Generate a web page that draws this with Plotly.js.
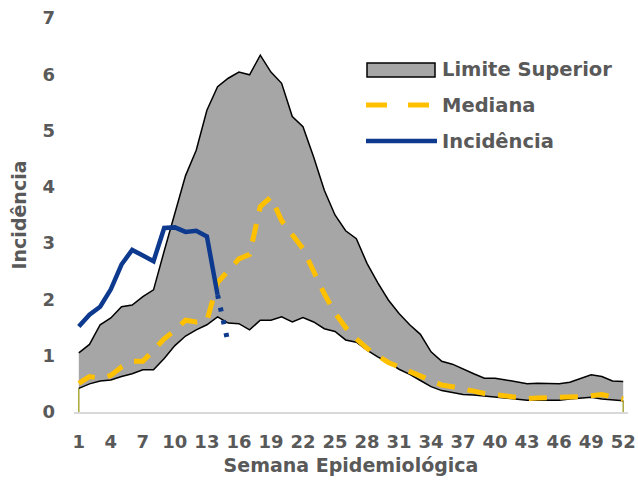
<!DOCTYPE html>
<html>
<head>
<meta charset="utf-8">
<script src="https://cdn.plot.ly/plotly-3.0.1.min.js"></script>
<style>
  html, body { margin: 0; padding: 0; background: #fff; }
  #chart { width: 638px; height: 481px; }
</style>
</head>
<body>
<div id="chart"></div>
<script>
var weeks = [1,2,3,4,5,6,7,8,9,10,11,12,13,14,15,16,17,18,19,20,21,22,23,24,25,26,
             27,28,29,30,31,32,33,34,35,36,37,38,39,40,41,42,43,44,45,46,47,48,49,50,51,52];
var upper = [1.05,1.2,1.55,1.67,1.87,1.9,2.05,2.17,2.86,3.55,4.2,4.65,5.36,5.78,5.93,6.04,5.99,6.34,6.04,5.84,5.25,5.07,4.53,3.94,3.5,3.22,
             3.08,2.64,2.3,1.99,1.75,1.55,1.38,1.07,0.9,0.85,0.76,0.68,0.6,0.6,0.57,0.54,0.5,0.51,0.51,0.5,0.53,0.59,0.66,0.63,0.55,0.54];
var lower = [0.42,0.5,0.55,0.57,0.63,0.68,0.75,0.75,0.95,1.18,1.35,1.46,1.55,1.69,1.58,1.57,1.46,1.63,1.63,1.69,1.6,1.68,1.6,1.48,1.43,1.28,
             1.24,1.1,0.98,0.88,0.76,0.67,0.56,0.45,0.38,0.34,0.31,0.3,0.28,0.27,0.24,0.23,0.21,0.21,0.21,0.21,0.23,0.25,0.26,0.23,0.21,0.2];
var median = [0.51,0.63,0.6,0.65,0.8,0.9,0.9,1.1,1.3,1.45,1.63,1.6,1.62,2.3,2.52,2.72,2.8,3.65,3.82,3.4,3.15,2.9,2.5,2.1,1.76,1.5,
              1.3,1.13,1.0,0.88,0.8,0.72,0.65,0.55,0.48,0.45,0.42,0.37,0.33,0.31,0.29,0.25,0.24,0.25,0.25,0.25,0.25,0.27,0.29,0.31,0.27,0.23];
var incWeeks = [1,2,3,4,5,6,7,8,9,10,11,12,13,14];
var incidence = [1.52,1.73,1.87,2.18,2.62,2.88,2.78,2.68,3.27,3.28,3.2,3.22,3.12,2.08];
var incDotWeeks = [14,15];
var incDot = [2.08,1.22];
var xTicks = [1,4,7,10,13,16,19,22,25,28,31,34,37,40,43,46,49,52];
var yTicks = [0,1,2,3,4,5,6,7];
var legendNames = ['Limite Superior', 'Mediana', 'Incidência'];

var textColor = '#595959';
var fontFam = 'DejaVu Sans, sans-serif';
var cGray = '#A6A6A6', cYellow = '#FFC000', cBlue = '#0D3A8E';

// plot area in pixels (for placing the hand-drawn legend)
var W = 638, H = 481, mL = 74, mR = 10, mT = 18, mB = 69;
var pw = W - mL - mR, ph = H - mT - mB;
function px(x) { return (x - mL) / pw; }
function py(y) { return (H - mB - y) / ph; }

var n = weeks.length;
var traces = [
  {x: [weeks[0], weeks[0], null, weeks[n-1], weeks[n-1]],
   y: [0, lower[0], null, 0, lower[n-1]],
   mode: 'lines', line: {color: '#A8A83A', width: 1.5}, hoverinfo: 'skip'},
  {x: weeks, y: lower, mode: 'lines', line: {color: '#000', width: 1.5}, hoverinfo: 'skip'},
  {x: weeks, y: upper, mode: 'lines', fill: 'tonexty', fillcolor: cGray,
   line: {color: '#000', width: 1.5}, name: legendNames[0]},
  {x: weeks, y: median, mode: 'lines', name: legendNames[1],
   line: {color: cYellow, width: 5, dash: '18px,13px'}},
  {x: incWeeks, y: incidence, mode: 'lines', name: legendNames[2],
   line: {color: cBlue, width: 4.5}},
  {x: incDotWeeks, y: incDot, mode: 'lines',
   line: {color: cBlue, width: 5, dash: '4px,9px'}}
];

var legFont = {family: fontFam, size: 19.5, color: textColor, weight: 'bold'};
var shapes = [
  {type: 'rect', xref: 'paper', yref: 'paper', x0: px(367), x1: px(435), y0: py(63), y1: py(77),
   fillcolor: cGray, line: {color: '#000', width: 1.5}},
  {type: 'line', xref: 'paper', yref: 'paper', x0: px(366), x1: px(430), y0: py(105), y1: py(105),
   line: {color: cYellow, width: 5, dash: '21px,21px'}},
  {type: 'line', xref: 'paper', yref: 'paper', x0: px(366), x1: px(437), y0: py(141), y1: py(141),
   line: {color: cBlue, width: 4.5}}
];
var legY = [69, 105, 141];
var annotations = legendNames.map(function (t, i) {
  return {text: t, xref: 'paper', yref: 'paper', x: px(440), y: py(legY[i]),
          xanchor: 'left', yanchor: 'middle', showarrow: false, font: legFont};
});

var layout = {
  width: W, height: H,
  margin: {l: mL, r: mR, t: mT, b: mB},
  paper_bgcolor: '#fff', plot_bgcolor: '#fff',
  font: {family: fontFam, color: textColor, size: 18, weight: 'bold'},
  showlegend: false,
  shapes: shapes,
  annotations: annotations,
  xaxis: {range: [0.55, 52.45], tickvals: xTicks, ticktext: xTicks.map(String),
          showgrid: false, zeroline: false, showline: true, linecolor: '#D9D9D9', linewidth: 2,
          ticks: '', ticklabelstandoff: 12,
          tickfont: {family: fontFam, size: 18, color: textColor, weight: 'bold'},
          title: {text: 'Semana Epidemiológica', standoff: 8,
                  font: {family: fontFam, size: 19, color: textColor, weight: 'bold'}}},
  yaxis: {range: [0, 7], tickvals: yTicks, showgrid: false, zeroline: false, showline: false,
          ticks: '', ticklabelstandoff: 18,
          tickfont: {family: fontFam, size: 18, color: textColor, weight: 'bold'},
          title: {text: 'Incidência', standoff: 10,
                  font: {family: fontFam, size: 19, color: textColor, weight: 'bold'}}}
};

Plotly.newPlot('chart', traces, layout, {displayModeBar: false, staticPlot: true});
</script>
</body>
</html>
